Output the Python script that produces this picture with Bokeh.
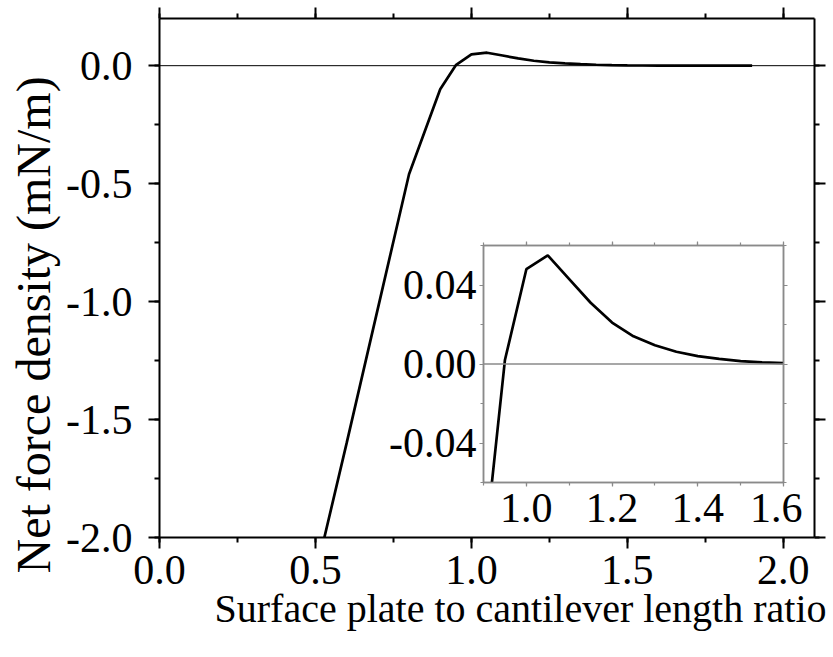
from bokeh.plotting import figure
from bokeh.models import (LinearAxis, SingleIntervalTicker, PrintfTickFormatter, Span,
                          Range1d, Column, ColumnDataSource, CustomJSTickFormatter, Title)
from bokeh.embed import file_html
from bokeh.resources import INLINE

# ---- data ----
ratio = [0.5, 0.6, 0.7, 0.8, 0.9, 0.95, 1.0, 1.05, 1.1, 1.15, 1.2, 1.25, 1.3, 1.35,
         1.4, 1.45, 1.5, 1.55, 1.6, 1.65, 1.7, 1.75, 1.8, 1.85, 1.9]
force = [-2.16, -1.60, -1.03, -0.46, -0.10, 0.002, 0.048, 0.055, 0.043, 0.031, 0.021,
         0.014, 0.0095, 0.0062, 0.004, 0.0026, 0.0015, 0.0008, 0.0004, 0.0002, 0.0001,
         0.0001, 0.0, 0.0, 0.0]

x_title = "Surface plate to cantilever length ratio"
y_title = "Net force density (mN/m)"

main_x_range = (0.0, 2.1)
main_y_range = (-2.0, 0.2)
inset_x_range = (0.9, 1.6)
inset_y_range = (-0.06, 0.06)

FONT = "Liberation Serif"
src = ColumnDataSource(data=dict(x=ratio, y=force))
blank = CustomJSTickFormatter(code="return ''")

# ---- main figure ----
p = figure(output_backend="svg", toolbar_location=None,
           frame_width=655, frame_height=519,
           min_border_left=158, min_border_right=20, min_border_top=18, min_border_bottom=120,
           x_range=Range1d(*main_x_range), y_range=Range1d(*main_y_range),
           x_axis_location=None, y_axis_location=None)
p.outline_line_color = None
p.xgrid.visible = False
p.ygrid.visible = False
p.background_fill_color = "white"
p.border_fill_color = "white"

def style_axis(ax, labels=True, interval=0.5, fmt="%.1f"):
    ax.ticker = SingleIntervalTicker(interval=interval, num_minor_ticks=2)
    ax.axis_line_width = 2
    ax.axis_line_color = "black"
    ax.major_tick_line_width = 2
    ax.minor_tick_line_width = 2
    ax.major_tick_out = 11
    ax.major_tick_in = 0
    ax.minor_tick_out = 5
    ax.minor_tick_in = 0
    ax.major_label_text_font = FONT
    ax.major_label_text_color = "black"
    ax.major_label_text_font_size = "42px"
    if labels:
        ax.formatter = PrintfTickFormatter(format=fmt)
    else:
        ax.formatter = blank
        ax.major_label_standoff = 0

xb = LinearAxis()
style_axis(xb)
xb.major_label_standoff = 7
p.add_layout(xb, "below")

yl = LinearAxis()
style_axis(yl)
yl.major_label_standoff = 16
p.add_layout(yl, "left")

xt = LinearAxis()
style_axis(xt, labels=False)
p.add_layout(xt, "above")

yr = LinearAxis()
style_axis(yr, labels=False)
p.add_layout(yr, "right")

# axis titles as side titles (allow an offset along the axis)
p.add_layout(Title(text=x_title, text_font=FONT, text_font_size="40px",
                   text_font_style="normal", text_color="black",
                   align="right", offset=-12, standoff=-6), "below")
p.add_layout(Title(text=y_title, text_font=FONT, text_font_size="48px",
                   text_font_style="normal", text_color="black",
                   align="left", offset=-36, standoff=8), "left")

p.add_layout(Span(location=0, dimension="width", line_color="black", line_width=1))
p.line("x", "y", source=src, line_color="black", line_width=2.7)

# ---- inset figure (borders match the main figure so the column aligns them;
#      it is then shifted with CSS onto its place) ----
q = figure(output_backend="svg", toolbar_location=None,
           frame_width=300, frame_height=237,
           min_border_left=158, min_border_right=20, min_border_top=18, min_border_bottom=70,
           x_range=Range1d(*inset_x_range), y_range=Range1d(*inset_y_range),
           x_axis_location=None, y_axis_location=None)
q.outline_line_color = "#8a8a8a"
q.outline_line_width = 1.5
q.xgrid.visible = False
q.ygrid.visible = False
q.background_fill_alpha = 0
q.border_fill_alpha = 0
q.styles = {"position": "absolute", "left": "324px", "top": "227px"}

def style_inset_axis(ax, labels, interval, fmt):
    ax.ticker = SingleIntervalTicker(interval=interval, num_minor_ticks=2)
    ax.axis_line_width = 1.5
    ax.axis_line_color = "#8a8a8a"
    ax.major_tick_line_color = "#8a8a8a"
    ax.minor_tick_line_color = "#8a8a8a"
    ax.major_tick_line_width = 1.2
    ax.minor_tick_line_width = 1.2
    ax.major_tick_out = 4
    ax.major_tick_in = 0
    ax.minor_tick_out = 3
    ax.minor_tick_in = 0
    ax.major_label_text_font = FONT
    ax.major_label_text_color = "black"
    ax.major_label_text_font_size = "42px"
    if labels:
        ax.formatter = PrintfTickFormatter(format=fmt)
    else:
        ax.formatter = blank
        ax.major_label_standoff = 0

qb = LinearAxis()
style_inset_axis(qb, True, 0.2, "%.1f")
qb.major_label_standoff = 7
q.add_layout(qb, "below")
ql = LinearAxis()
style_inset_axis(ql, True, 0.04, "%.2f")
ql.major_label_standoff = 3
q.add_layout(ql, "left")
qt = LinearAxis()
style_inset_axis(qt, False, 0.2, "%.1f")
q.add_layout(qt, "above")
qr = LinearAxis()
style_inset_axis(qr, False, 0.04, "%.2f")
q.add_layout(qr, "right")

q.add_layout(Span(location=0, dimension="width", line_color="#8a8a8a", line_width=1.5))
q.line("x", "y", source=src, line_color="black", line_width=2.7)

layout = Column(children=[p, q], styles={"position": "relative"})

open("out.html", "w").write(file_html(layout, INLINE))
